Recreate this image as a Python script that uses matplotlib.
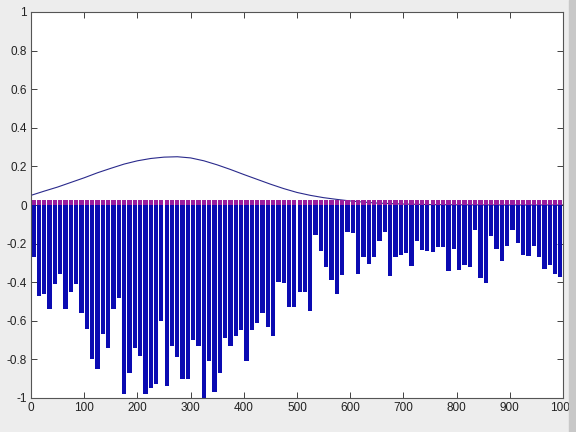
import numpy as np
import matplotlib
matplotlib.use('Agg')
import matplotlib.pyplot as plt

# bar positions (centres) and heights
bar_x = np.arange(5, 1000, 10)
bar_y = [-0.27, -0.47, -0.46, -0.54, -0.41, -0.36, -0.54, -0.45, -0.41, -0.56,
         -0.64, -0.80, -0.85, -0.67, -0.74, -0.54, -0.48, -0.98, -0.87, -0.74,
         -0.78, -0.98, -0.95, -0.93, -0.60, -0.94, -0.73, -0.79, -0.90, -0.90,
         -0.70, -0.73, -1.00, -0.81, -0.97, -0.87, -0.69, -0.73, -0.68, -0.65,
         -0.81, -0.65, -0.61, -0.56, -0.63, -0.68, -0.40, -0.405, -0.53, -0.53,
         -0.45, -0.45, -0.55, -0.155, -0.24, -0.32, -0.39, -0.46, -0.365, -0.14,
         -0.145, -0.36, -0.27, -0.305, -0.27, -0.185, -0.14, -0.37, -0.27, -0.26,
         -0.25, -0.315, -0.185, -0.235, -0.24, -0.245, -0.22, -0.22, -0.34, -0.23,
         -0.335, -0.31, -0.32, -0.13, -0.38, -0.405, -0.16, -0.23, -0.29, -0.21,
         -0.13, -0.195, -0.26, -0.265, -0.21, -0.27, -0.33, -0.31, -0.36, -0.375]
# small positive markers sitting on the zero line
top_y = [0.028] * len(bar_x)

# smooth curve, read every 25 units
curve_x = [0, 25, 50, 75, 100, 125, 150, 175, 200, 225, 250, 275, 300, 325, 350,
           375, 400, 425, 450, 475, 500, 525, 550, 575, 600, 625, 650, 700, 750,
           800, 900, 1000]
curve_y = [0.05, 0.072, 0.093, 0.117, 0.141, 0.167, 0.19, 0.212, 0.229, 0.241,
           0.248, 0.25, 0.244, 0.229, 0.208, 0.184, 0.158, 0.133, 0.108, 0.085,
           0.065, 0.05, 0.038, 0.029, 0.021, 0.015, 0.01, 0.005, 0.002, 0.001,
           0.0, 0.0]

x_ticks = np.arange(0, 1001, 100)
y_ticks = [-1, -0.8, -0.6, -0.4, -0.2, 0, 0.2, 0.4, 0.6, 0.8, 1]
y_labels = ['-1', '-0.8', '-0.6', '-0.4', '-0.2', '0', '0.2', '0.4', '0.6', '0.8', '1']

plt.rcParams['font.family'] = ['Liberation Sans', 'DejaVu Sans']

fig = plt.figure(figsize=(5.76, 4.32), dpi=100, facecolor='#ededed')
ax = fig.add_axes([31 / 576, 34 / 432, 532 / 576, 386 / 432])
ax.set_facecolor('white')

ax.bar(bar_x, bar_y, width=8, color='#0a0ab2', edgecolor='none', zorder=2)
ax.bar(bar_x, top_y, width=8, color='#9a1c9e', edgecolor='none', zorder=2)
ax.plot(curve_x, curve_y, color='#2a2a8c', lw=0.8, zorder=1)

ax.set_xlim(0, 1000)
ax.set_ylim(-1, 1)
ax.set_xticks(x_ticks)
ax.set_xticklabels([str(t) for t in x_ticks])
ax.set_yticks(y_ticks)
ax.set_yticklabels(y_labels)
ax.tick_params(direction='in', length=4, width=0.6, labelsize=8.5,
               top=True, right=True, colors='#222222', pad=3)
for s in ax.spines.values():
    s.set_color('#555555')
    s.set_linewidth(0.8)

# window border at the right edge
fig.patches.append(plt.Rectangle((569 / 576, 0), 7 / 576, 1, transform=fig.transFigure,
                                 color='#c8c8c8', zorder=0))

plt.savefig('out.png', dpi=100, facecolor=fig.get_facecolor())
